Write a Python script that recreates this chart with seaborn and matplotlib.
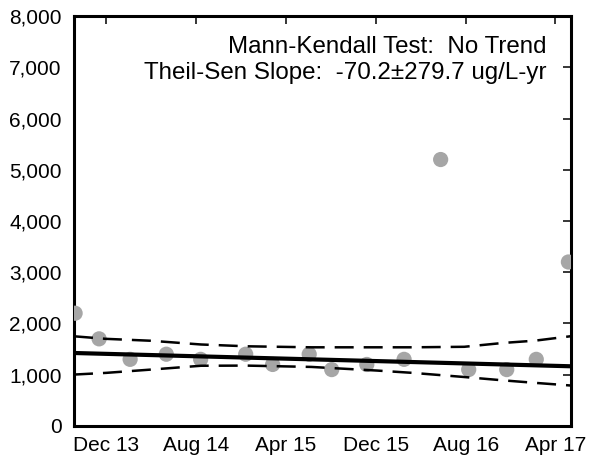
import matplotlib
matplotlib.use("Agg")
import matplotlib.pyplot as plt
import matplotlib.dates as mdates
import matplotlib.ticker as mticker
import seaborn as sns
import pandas as pd
import numpy as np

sample_dates = ["2013-09-08", "2013-11-12", "2014-02-04", "2014-05-13", "2014-08-14",
                "2014-12-14", "2015-02-25", "2015-06-04", "2015-08-04", "2015-11-07",
                "2016-02-16", "2016-05-25", "2016-08-09", "2016-11-20", "2017-02-08",
                "2017-05-06"]
concentration = [2200, 1700, 1300, 1400, 1300, 1400, 1200, 1400, 1100, 1200,
                 1300, 5200, 1100, 1100, 1300, 3200]

trend_dates = ["2013-09-05", "2017-05-11"]
trend_values = [1424, 1165]

band_dates = ["2013-09-05", "2013-12-01", "2014-04-01", "2014-08-15", "2014-12-15",
              "2015-06-10", "2015-12-05", "2016-03-10", "2016-07-28", "2016-11-10",
              "2017-02-05", "2017-05-11"]
upper_band = [1750, 1700, 1663, 1590, 1555, 1535, 1535, 1535, 1545, 1620, 1665, 1750]
lower_band = [1003, 1036, 1100, 1175, 1178, 1152, 1081, 1036, 955, 890, 841, 790]

tick_dates = ["2013-12-01", "2014-08-01", "2015-04-01", "2015-12-01", "2016-08-01", "2017-04-01"]
x_limits = ["2013-09-05", "2017-05-13"]
y_ticks = [0, 1000, 2000, 3000, 4000, 5000, 6000, 7000, 8000]

annotation_lines = ["Mann-Kendall Test:  No Trend", "Theil-Sen Slope:  -70.2\u00b1279.7 ug/L-yr"]

sns.set_style("white")
plt.rcParams['font.family'] = ['Liberation Sans', 'DejaVu Sans']
plt.rcParams['text.color'] = 'black'

pts = pd.DataFrame({"date": pd.to_datetime(sample_dates), "value": concentration})
trend = pd.DataFrame({"date": pd.to_datetime(trend_dates), "value": trend_values})
band = pd.DataFrame({"date": pd.to_datetime(band_dates), "upper": upper_band, "lower": lower_band})

fig = plt.figure(figsize=(5.92, 4.59), dpi=100)
ax = fig.add_axes([0.125, 0.072, 0.8395, 0.893])

sns.scatterplot(data=pts, x="date", y="value", ax=ax, s=120, color="#a6a6a6",
                edgecolor="none", zorder=3, clip_on=True)
sns.lineplot(data=trend, x="date", y="value", ax=ax, color="black", linewidth=3.0, zorder=4)
sns.lineplot(data=band, x="date", y="upper", ax=ax, color="black", linewidth=1.8, zorder=4)
sns.lineplot(data=band, x="date", y="lower", ax=ax, color="black", linewidth=1.8, zorder=4)
for line in ax.lines[1:]:
    line.set_dashes([7.6, 4.0])

ax.set_xlim(pd.to_datetime(x_limits[0]), pd.to_datetime(x_limits[1]))
ax.set_ylim(y_ticks[0], y_ticks[-1])
ax.set_xticks(pd.to_datetime(tick_dates))
ax.xaxis.set_major_formatter(mdates.DateFormatter("%b %y"))
ax.set_yticks(y_ticks)
ax.yaxis.set_major_formatter(mticker.FuncFormatter(lambda v, p: f"{int(v):,}"))
ax.set_xlabel("")
ax.set_ylabel("")

ax.tick_params(axis="both", direction="in", length=6, width=1.1, labelsize=15,
               top=True, right=True, colors="black")
ax.tick_params(axis="x", pad=7)
ax.tick_params(axis="y", pad=9)
for sp in ax.spines.values():
    sp.set_linewidth(2.2)
    sp.set_color("black")

ax.text(0.95, 0.91, annotation_lines[0], transform=ax.transAxes, ha="right", va="baseline",
        fontsize=17.4)
ax.text(0.95, 0.846, annotation_lines[1], transform=ax.transAxes, ha="right", va="baseline",
        fontsize=17.4)

fig.savefig("out.png", dpi=100)
